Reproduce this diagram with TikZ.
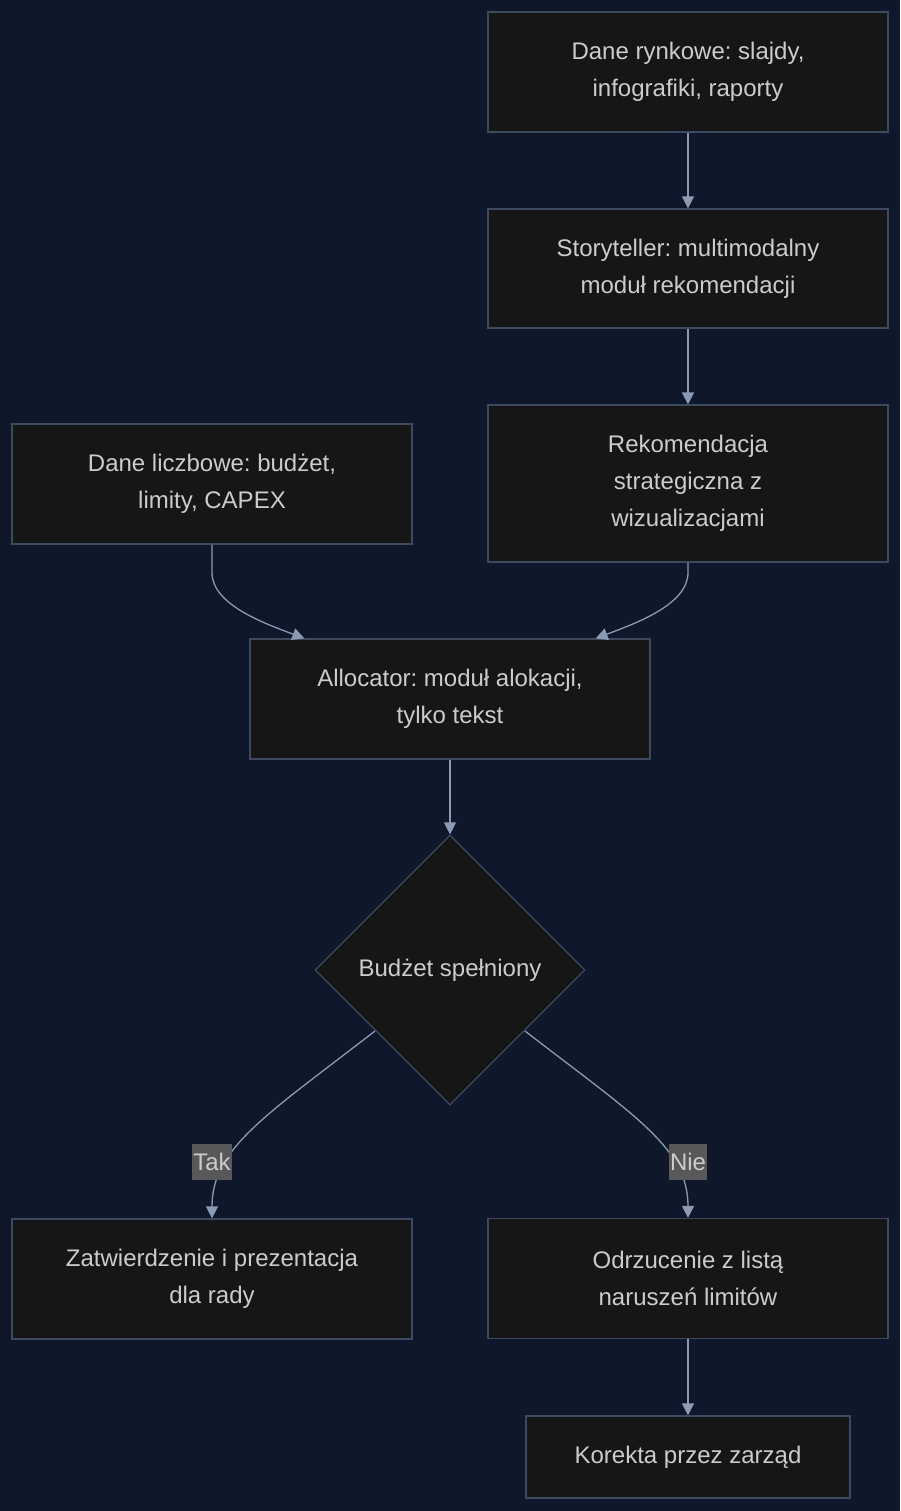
\documentclass[tikz,border=0pt]{standalone}
\usepackage{fontspec}
\setmainfont{Liberation Sans}
\usetikzlibrary{shapes.geometric,arrows.meta}
\definecolor{bgc}{HTML}{0F172A}
\definecolor{boxfill}{HTML}{161616}
\definecolor{boxline}{HTML}{3B4A5E}
\definecolor{edgec}{HTML}{8A9BB3}
\definecolor{txtc}{HTML}{CCCCCC}
\definecolor{lblc}{HTML}{585858}
\frenchspacing
\tikzset{
  stepbox/.style={draw=boxline, line width=1.2pt, fill=boxfill, text=txtc, minimum width=400pt, minimum height=120pt, align=center, inner sep=0pt, font=\fontsize{24}{37}\selectfont},
  decbox/.style={diamond, aspect=1, draw=boxline, line width=1.2pt, fill=boxfill, text=txtc, minimum width=270pt, minimum height=270pt, inner sep=0pt, font=\fontsize{24}{37}\selectfont},
  conn/.style={draw=edgec, line width=1.3pt, -{Triangle[length=12pt,width=12pt]}},
  lbl/.style={fill=lblc, text=txtc, inner sep=1pt, minimum height=36pt, font=\fontsize{24}{30}\selectfont}
}
\begin{document}
\begin{tikzpicture}[x=1pt,y=-1pt]
\useasboundingbox (0,0) rectangle (900,1511);
\fill[bgc] (0,0) rectangle (900,1511);

\node[stepbox] (rynk) at (688,72) {Dane rynkowe: slajdy,\\ infografiki, raporty};
\node[stepbox, minimum height=119pt] (story) at (688,268.5) {Storyteller: multimodalny\\ moduł rekomendacji};
\node[stepbox, minimum height=157pt] (rekom) at (688,483.5) {Rekomendacja\\ strategiczna z\\ wizualizacjami};
\node[stepbox] (liczb) at (212,484) {Dane liczbowe: budżet,\\ limity, CAPEX};
\node[stepbox] (alloc) at (450,699) {Allocator: moduł alokacji,\\ tylko tekst};
\node[decbox] (budz) at (450,970) {Budżet spełniony};
\node[stepbox] (zatw) at (212,1279) {Zatwierdzenie i prezentacja\\ dla rady};
\node[stepbox] (odrz) at (688,1278.5) {Odrzucenie z listą\\ naruszeń limitów};
\node[stepbox, minimum width=324pt, minimum height=82pt] (kor) at (688,1457) {Korekta przez zarząd};

\coordinate (a1) at ([xshift=55pt]alloc.north west);
\coordinate (a2) at ([xshift=-55pt]alloc.north east);
\coordinate (d1) at ([shift={(-75pt,-61pt)}]budz.center);
\coordinate (d2) at ([shift={(75pt,-61pt)}]budz.center);

\draw[conn] (rynk.south) -- (story.north);
\draw[conn] (story.south) -- (rekom.north);
\draw[conn] (liczb.south) -- ([yshift=-28pt]liczb.south) .. controls ([yshift=-60pt]liczb.south) and ([shift={(-40pt,15pt)}]a1) .. (a1);
\draw[conn] (rekom.south) -- ([yshift=-10pt]rekom.south) .. controls ([yshift=-42pt]rekom.south) and ([shift={(40pt,15pt)}]a2) .. (a2);
\draw[conn] (alloc.south) -- (budz.north);

\draw[conn] (d1) .. controls ([shift={(-110pt,-85pt)}]d1) and ([yshift=70pt]zatw.north) .. (zatw.north);
\draw[conn] (d2) .. controls ([shift={(110pt,-85pt)}]d2) and ([yshift=70pt]odrz.north) .. (odrz.north);
\node[lbl] (tak) at (212,1162) {Tak};
\node[lbl] (nie) at (688,1162) {Nie};

\draw[conn] (odrz.south) -- (kor.north);
\end{tikzpicture}
\end{document}
